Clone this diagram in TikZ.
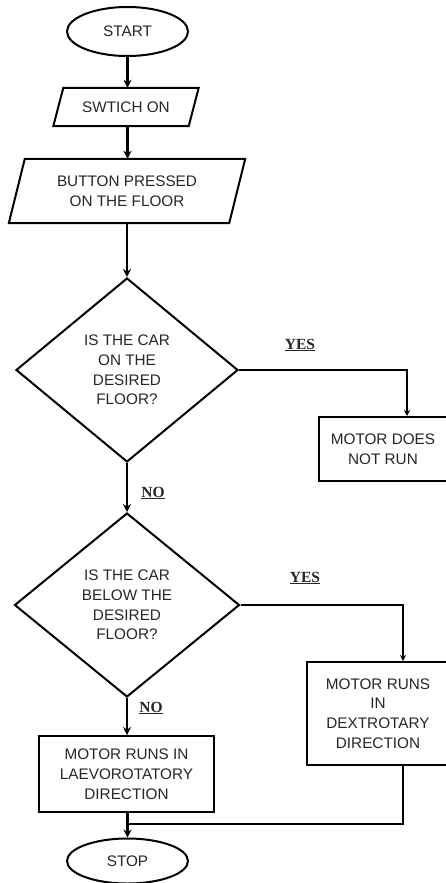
\documentclass[tikz,border=0pt]{standalone}
\usepackage{fontspec}
\setmainfont{Liberation Sans}
\newfontfamily\lblfont{Liberation Serif}
\usetikzlibrary{shapes.geometric,arrows.meta}
\begin{document}
\begin{tikzpicture}[x=1pt,y=-1pt,
  txt/.style={font=\fontsize{15.3}{19.8}\selectfont, text=black!85, align=center},
  shp/.style={draw=black, line width=2pt},
  term/.style={txt, shp, ellipse, inner sep=0pt},
  plain/.style={txt, draw=none, inner sep=0pt},
  procbox/.style={txt, shp, rectangle, inner sep=0pt},
  decide/.style={txt, shp, diamond, inner sep=1pt},
  flow/.style={draw=black, line width=2.6pt, -{Stealth[length=8pt,width=8pt]}},
  link/.style={draw=black, line width=2.1pt},
  ans/.style={font=\lblfont\bfseries\fontsize{15.5}{15.5}\selectfont, text=black!85, inner sep=0pt}
]
\useasboundingbox (0,0) rectangle (445,883);
\fill[white] (0,0) rectangle (445,883);

% terminals
\node[term, minimum width=121pt, minimum height=49pt] (start) at (127.5,31.5) {START};
\node[term, minimum width=121pt, minimum height=45pt] (stop) at (127.5,861) {STOP};

% input/output parallelograms
\node[plain, minimum width=135pt, minimum height=38pt] (sw) at (126,107) {SWTICH ON};
\draw[shp] ([xshift=5pt]sw.north west) -- ([xshift=5pt]sw.north east)
  -- ([xshift=-5pt]sw.south east) -- ([xshift=-5pt]sw.south west) -- cycle;
\node[plain, minimum width=220pt, minimum height=64pt] (btn) at (127,191) {BUTTON PRESSED\\ON THE FLOOR};
\draw[shp] ([xshift=8pt]btn.north west) -- ([xshift=8pt]btn.north east)
  -- ([xshift=-8pt]btn.south east) -- ([xshift=-8pt]btn.south west) -- cycle;

% decisions
\node[decide, minimum width=222pt, minimum height=184pt] (d1) at (127,370) {IS THE CAR\\ON THE\\DESIRED\\FLOOR?};
\node[decide, minimum width=225pt, minimum height=184pt] (d2) at (127,605) {IS THE CAR\\BELOW THE\\DESIRED\\FLOOR?};

% process boxes
\node[procbox, minimum width=128pt, minimum height=64pt] (nr) at (383,449) {MOTOR DOES\\NOT RUN};
\node[procbox, minimum width=142pt, minimum height=103pt] (dx) at (378,713.5) {MOTOR RUNS\\IN\\DEXTROTARY\\DIRECTION};
\node[procbox, minimum width=175pt, minimum height=76pt] (lv) at (126.5,774) {MOTOR RUNS IN\\LAEVOROTATORY\\DIRECTION};

% connectors
\draw[flow] (start.south) -- (sw.north -| start.south);
\draw[flow] (sw.south -| start.south) -- (btn.north -| start.south);
\draw[flow] (btn.south -| d1.north) -- (d1.north);
\coordinate (nrin) at ([xshift=24pt]nr.north);
\draw[link, -{Stealth[length=6pt,width=6pt]}] (d1.east) -| (nrin);
\draw[flow] (d1.south) -- (d2.north);
\coordinate (dxin) at ([xshift=25pt]dx.north);
\draw[link, -{Stealth[length=6pt,width=6pt]}] (d2.east) -| (dxin);
\draw[flow] (d2.south) -- (lv.north -| d2.south);
\draw[flow] (lv.south -| stop.north) -- (stop.north);
\coordinate (dxout) at ([xshift=25pt]dx.south);
\coordinate (join) at (129,824);
\draw[link] (dxout) |- (join);

% labels
\node[ans] (y1) at (300,345) {\underline{YES}};
\node[ans] (y2) at (305,578) {\underline{YES}};
\node[ans] (n1) at (153,493) {\underline{NO}};
\node[ans] (n2) at (151,708) {\underline{NO}};
\end{tikzpicture}
\end{document}
